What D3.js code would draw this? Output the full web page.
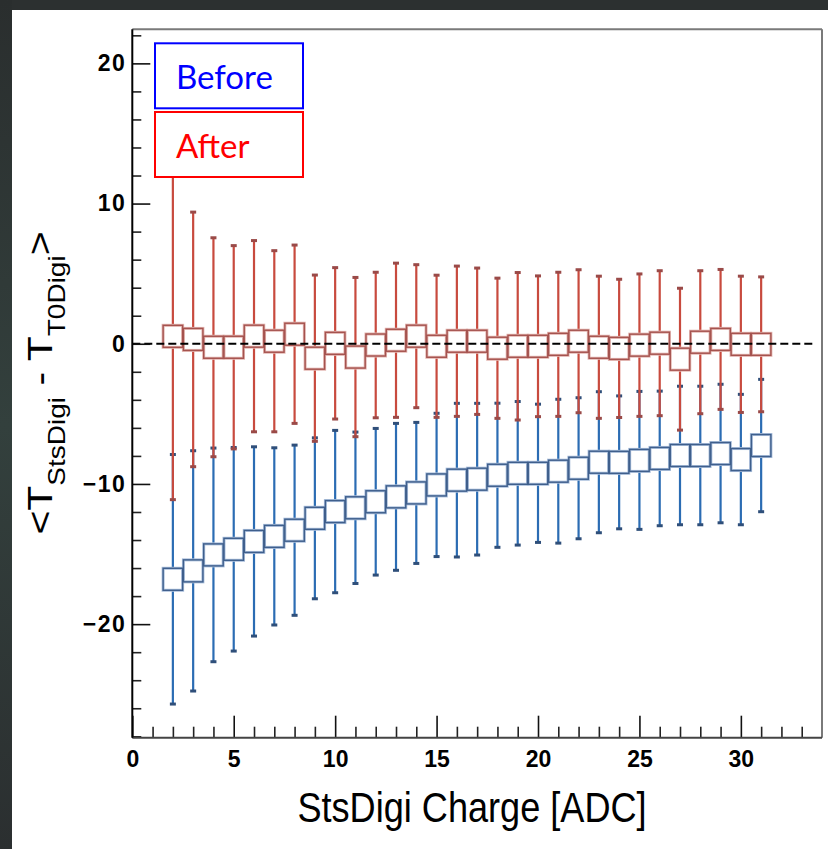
<!DOCTYPE html>
<html>
<head>
<meta charset="utf-8">
<script src="https://cdn.jsdelivr.net/npm/d3@7"></script>
<style>
  html, body { margin: 0; padding: 0; background: #fff; }
  svg { display: block; }
</style>
</head>
<body>
<svg id="chart" width="828" height="849"></svg>
<script>
// Charge bins (ADC)
const charge = [2, 3, 4, 5, 6, 7, 8, 9, 10, 11, 12, 13, 14, 15, 16, 17, 18, 19, 20, 21, 22, 23, 24, 25, 26, 27, 28, 29, 30, 31];

// Mean time difference and spread before the correction
const beforeMean = [-16.8, -16.2, -15.06, -14.66, -14.1, -13.74, -13.3, -12.45, -11.97, -11.7, -11.27, -10.92, -10.64, -10.07, -9.73, -9.66, -9.38, -9.24, -9.24, -9.09, -8.88, -8.45, -8.46, -8.32, -8.18, -7.97, -7.97, -7.83, -8.26, -7.26];
const beforeErr  = [8.9, 8.57, 7.62, 7.26, 6.75, 6.32, 6.07, 5.74, 5.79, 5.4, 5.23, 5.24, 5.03, 5.11, 5.48, 5.41, 5.14, 5.12, 4.93, 5.13, 5.03, 5.03, 4.74, 4.92, 4.8, 4.94, 4.94, 4.94, 4.65, 4.72];

// Mean time difference and spread after the correction
const afterMean = [0.53, 0.31, -0.25, -0.25, 0.54, 0.18, 0.68, -1.03, 0.03, -0.95, -0.09, 0.25, 0.54, -0.18, 0.18, 0.18, -0.32, -0.18, -0.18, -0.04, 0.18, -0.25, -0.33, -0.1, 0.04, -1.1, 0.11, 0.31, -0.04, -0.04];
const afterErr  = [11.65, 9.08, 7.81, 7.25, 6.82, 6.46, 6.36, 5.93, 5.4, 5.68, 5.19, 5.5, 5.1, 5.07, 5.36, 5.22, 5.0, 5.26, 5.02, 5.14, 5.1, 5.07, 4.93, 5.08, 5.17, 5.06, 5.1, 4.99, 4.86, 4.81];

const xTicksMajor = [0, 5, 10, 15, 20, 25, 30];
const yTicksMajor = [-20, -10, 0, 10, 20];
const legendLabels = ["Before", "After"];

const svg = d3.select("#chart");

// slide background strips
const bg = svg.append("defs").append("linearGradient").attr("id", "slideBg")
  .attr("x1", 0).attr("y1", 0).attr("x2", 0).attr("y2", 1);
bg.append("stop").attr("offset", "0%").attr("stop-color", "#2a2e2e");
bg.append("stop").attr("offset", "50%").attr("stop-color", "#33403d");
bg.append("stop").attr("offset", "100%").attr("stop-color", "#2b2f30");
svg.append("rect").attr("x", 0).attr("y", 0).attr("width", 828).attr("height", 10).attr("fill", "#2c3030");
svg.append("rect").attr("x", 0).attr("y", 0).attr("width", 12).attr("height", 849).attr("fill", "url(#slideBg)");

const L = 132.3, R = 822, T = 29.3, B = 737.7;
const x = d3.scaleLinear().domain([0, 34]).range([L, R]);
const y = d3.scaleLinear().domain([-28.1, 22.43]).range([B, T]);

const boxW = 19.5, boxH = 22, capW = 6;

const series = [
  { mean: beforeMean, err: beforeErr, bar: "#2b6cb3", cap: "#2f4f7a", box: "#3f5f8c", halo: "#a9bedb" },
  { mean: afterMean,  err: afterErr,  bar: "#c84a3e", cap: "#9a4a48", box: "#a5534f", halo: "#e3b5b0" }
];

const plot = svg.append("g");

// error bars (Before first, After over it)
series.forEach(s => {
  const g = plot.append("g");
  const pts = charge.map((c, i) => ({ c, m: s.mean[i], e: s.err[i] }));
  g.selectAll("line.bar").data(pts).join("line")
    .attr("x1", d => x(d.c)).attr("x2", d => x(d.c))
    .attr("y1", d => y(d.m - d.e)).attr("y2", d => y(d.m + d.e))
    .attr("stroke", s.bar).attr("stroke-width", 2.2);
  ["lo", "hi"].forEach(k => {
    g.selectAll("rect.cap" + k).data(pts).join("rect")
      .attr("x", d => x(d.c) - capW / 2)
      .attr("y", d => y(k === "lo" ? d.m - d.e : d.m + d.e) - 1.5)
      .attr("width", capW).attr("height", 3)
      .attr("fill", s.cap);
  });
});

// mean markers
series.forEach(s => {
  const g = plot.append("g");
  const pts = charge.map((c, i) => ({ c, m: s.mean[i] }));
  g.selectAll("rect.halo").data(pts).join("rect")
    .attr("x", d => x(d.c) - boxW / 2).attr("y", d => y(d.m) - boxH / 2)
    .attr("width", boxW).attr("height", boxH)
    .attr("fill", "#fff").attr("stroke", s.halo).attr("stroke-width", 3);
  g.selectAll("rect.box").data(pts).join("rect")
    .attr("x", d => x(d.c) - boxW / 2).attr("y", d => y(d.m) - boxH / 2)
    .attr("width", boxW).attr("height", boxH)
    .attr("fill", "none").attr("stroke", s.box).attr("stroke-width", 1.4);
});

// zero reference line
plot.append("line")
  .attr("x1", x(0)).attr("x2", x(34) - 6)
  .attr("y1", y(0)).attr("y2", y(0))
  .attr("stroke", "#000").attr("stroke-width", 2)
  .attr("stroke-dasharray", "8,4");

// axes
const axisFont = "'Liberation Sans', Arial, sans-serif";

const yMinor = d3.range(-28, 23, 2).filter(v => v % 10 !== 0);
svg.append("g").attr("transform", `translate(${L},0)`)
  .call(d3.axisLeft(y).tickValues(yMinor).tickSizeInner(-9).tickSizeOuter(0).tickFormat(""))
  .call(g => g.select(".domain").remove())
  .call(g => g.selectAll("line").attr("stroke", "#222").attr("stroke-width", 1.6));
svg.append("g").attr("transform", `translate(${L},0)`)
  .call(d3.axisLeft(y).tickValues(yTicksMajor).tickSizeInner(-18).tickSizeOuter(0).tickPadding(6))
  .call(g => g.select(".domain").remove())
  .call(g => g.selectAll("line").attr("stroke", "#111").attr("stroke-width", 1.6))
  .call(g => g.selectAll("text").attr("font-family", axisFont).attr("font-weight", "bold")
    .attr("font-size", 23).attr("fill", "#000").attr("letter-spacing", 1.5));

const xMinor = d3.range(1, 34).filter(v => v % 5 !== 0);
svg.append("g").attr("transform", `translate(0,${B})`)
  .call(d3.axisBottom(x).tickValues(xMinor).tickSizeInner(-11).tickSizeOuter(0).tickFormat(""))
  .call(g => g.select(".domain").remove())
  .call(g => g.selectAll("line").attr("stroke", "#222").attr("stroke-width", 1.6));
svg.append("g").attr("transform", `translate(0,${B})`)
  .call(d3.axisBottom(x).tickValues(xTicksMajor).tickSizeInner(-22).tickSizeOuter(0).tickPadding(13))
  .call(g => g.select(".domain").remove())
  .call(g => g.selectAll("line").attr("stroke", "#111").attr("stroke-width", 1.6))
  .call(g => g.selectAll("text").attr("font-family", axisFont).attr("font-weight", "bold")
    .attr("font-size", 23).attr("fill", "#000"));

// frame
svg.append("line").attr("x1", L).attr("x2", R).attr("y1", T).attr("y2", T).attr("stroke", "#7a7a7a").attr("stroke-width", 2);
svg.append("line").attr("x1", R).attr("x2", R).attr("y1", T).attr("y2", B).attr("stroke", "#7a7a7a").attr("stroke-width", 2);
svg.append("line").attr("x1", L).attr("x2", R).attr("y1", B).attr("y2", B).attr("stroke", "#444").attr("stroke-width", 2);
svg.append("line").attr("x1", L).attr("x2", L).attr("y1", T).attr("y2", B).attr("stroke", "#000").attr("stroke-width", 2);

// axis titles
svg.append("text")
  .attr("transform", "translate(472,822) scale(0.86,1)")
  .attr("text-anchor", "middle")
  .attr("font-family", axisFont).attr("font-size", 42).attr("fill", "#000")
  .text("StsDigi Charge [ADC]");

const yt = svg.append("text")
  .attr("transform", "translate(52,383) scale(0.86,1) rotate(-90)")
  .attr("text-anchor", "middle")
  .attr("font-family", axisFont).attr("fill", "#000");
yt.append("tspan").attr("font-size", 41).text("<T");
yt.append("tspan").attr("font-size", 28).attr("dy", 15).text("StsDigi");
yt.append("tspan").attr("font-size", 41).attr("dy", -15).text(" - T");
yt.append("tspan").attr("font-size", 28).attr("dy", 15).text("T0Digi");
yt.append("tspan").attr("font-size", 41).attr("dy", -15).text(">");

// legend boxes
const legColors = ["#0000ff", "#ff0000"];
const legTop = [43.3, 112];
legendLabels.forEach((lab, i) => {
  svg.append("rect").attr("x", 155).attr("y", legTop[i]).attr("width", 148).attr("height", 65)
    .attr("fill", "#fff").attr("stroke", legColors[i]).attr("stroke-width", 2);
  svg.append("text").attr("x", 176).attr("y", legTop[i] + 46)
    .attr("font-family", "Lato, 'Open Sans', sans-serif").attr("font-size", 33)
    .attr("fill", legColors[i]).text(lab);
});
</script>
</body>
</html>
